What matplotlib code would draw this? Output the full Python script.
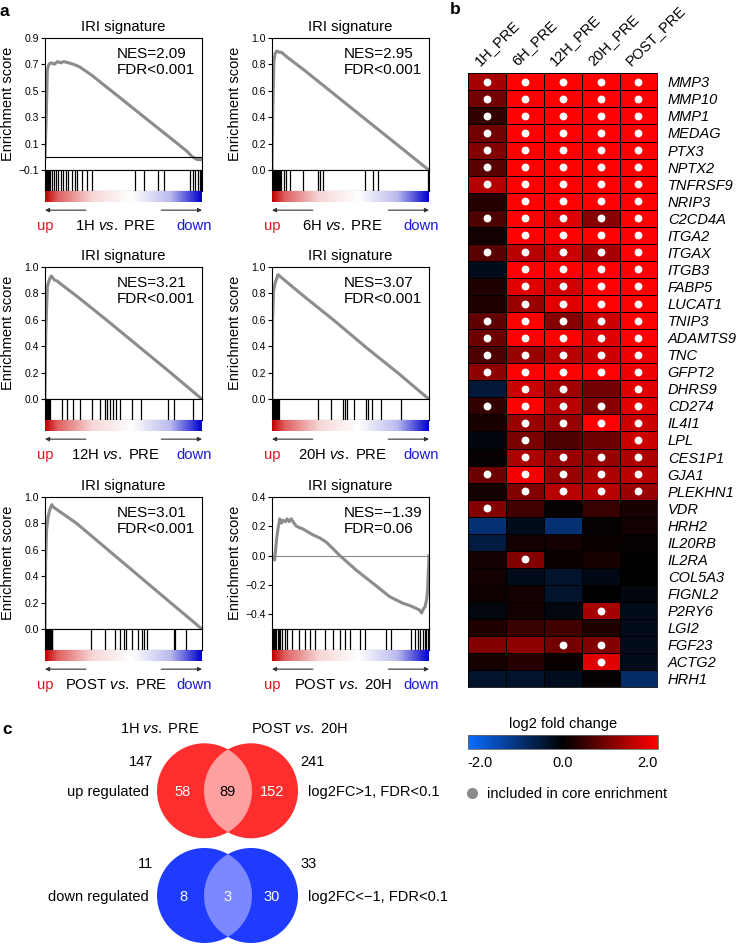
import numpy as np
import matplotlib.pyplot as plt
from matplotlib.colors import LinearSegmentedColormap
from matplotlib.patches import Ellipse
from matplotlib.lines import Line2D

plt.rcParams['font.family'] = 'Liberation Sans'
plt.rcParams['mathtext.fontset'] = 'custom'
plt.rcParams['mathtext.rm'] = 'Liberation Sans'
plt.rcParams['mathtext.it'] = 'Liberation Sans:italic'

# ---------------- data: panel a (GSEA running enrichment scores) ----------------
gsea_titles = ['1H', '6H', '12H', '20H', 'POST', 'POST']
gsea_refs = ['PRE', 'PRE', 'PRE', 'PRE', 'PRE', '20H']
nes = [2.09, 2.95, 3.21, 3.07, 3.01, -1.39]
fdr = ['<0.001', '<0.001', '<0.001', '<0.001', '<0.001', '=0.06']

es_x = [
    [0, 0.008, 0.015, 0.025, 0.04, 0.06, 0.08, 0.1, 0.12, 0.15, 0.18, 0.22, 0.3, 0.4, 0.5, 0.6, 0.7, 0.8, 0.9, 0.94, 0.97, 1.0],
    [0, 0.005, 0.012, 0.02, 0.03, 0.045, 0.06, 0.08, 0.1, 0.2, 0.4, 0.6, 0.8, 0.9, 1.0],
    [0, 0.005, 0.015, 0.03, 0.04, 0.06, 0.08, 0.1, 0.2, 0.4, 0.6, 0.8, 0.9, 1.0],
    [0, 0.004, 0.01, 0.02, 0.03, 0.038, 0.2, 0.4, 0.6, 0.8, 1.0],
    [0, 0.004, 0.01, 0.02, 0.03, 0.043, 0.055, 0.2, 0.4, 0.6, 0.8, 0.926, 1.0],
    [0, 0.006, 0.017, 0.03, 0.038, 0.049, 0.06, 0.07, 0.085, 0.096, 0.11, 0.123, 0.14, 0.155, 0.175,
     0.198, 0.23, 0.262, 0.304, 0.347, 0.39, 0.432, 0.538, 0.645, 0.751, 0.836, 0.88, 0.921, 0.94,
     0.953, 0.965, 0.974, 0.985, 0.991, 1.0],
]
es_y = [
    [0, 0.3, 0.66, 0.70, 0.71, 0.70, 0.72, 0.71, 0.72, 0.71, 0.70, 0.68, 0.615, 0.52, 0.426, 0.331, 0.236, 0.142, 0.047, 0.0, -0.02, -0.02],
    [0, 0.45, 0.82, 0.88, 0.90, 0.89, 0.89, 0.87, 0.85, 0.76, 0.57, 0.38, 0.19, 0.095, 0.0],
    [0, 0.5, 0.85, 0.91, 0.93, 0.90, 0.89, 0.87, 0.78, 0.59, 0.395, 0.2, 0.1, 0.0],
    [0, 0.6, 0.82, 0.88, 0.91, 0.94, 0.78, 0.59, 0.39, 0.2, 0.0],
    [0, 0.5, 0.75, 0.85, 0.9, 0.94, 0.92, 0.80, 0.60, 0.40, 0.20, 0.075, 0.0],
    [0, -0.01, -0.03, 0.12, 0.18, 0.25, 0.22, 0.24, 0.23, 0.25, 0.23, 0.25, 0.22, 0.2, 0.19,
     0.18, 0.16, 0.14, 0.12, 0.09, 0.045, 0.0, -0.1, -0.19, -0.28, -0.325, -0.34, -0.36, -0.37,
     -0.39, -0.36, -0.35, -0.3, -0.23, 0.0],
]
es_ylim = [(-0.1, 0.9), (0, 1.0), (0, 1.0), (0, 1.0), (0, 1.0), (-0.5, 0.4)]
es_ticks = [[-0.1, 0.1, 0.3, 0.5, 0.7, 0.9], [0, 0.2, 0.4, 0.6, 0.8, 1.0], [0, 0.2, 0.4, 0.6, 0.8, 1.0],
            [0, 0.2, 0.4, 0.6, 0.8, 1.0], [0, 0.2, 0.4, 0.6, 0.8, 1.0], [-0.4, -0.2, 0.0, 0.2, 0.4]]

hits = [
    [0.002, 0.006, 0.01, 0.014, 0.018, 0.022, 0.026, 0.03, 0.043, 0.057, 0.07, 0.085, 0.1, 0.117, 0.132,
     0.149, 0.17, 0.19, 0.206, 0.234, 0.27, 0.298, 0.574, 0.628, 0.717, 0.755, 0.926, 0.94, 0.957, 0.972, 0.985, 0.996],
    [0.002, 0.008, 0.014, 0.02, 0.026, 0.032, 0.038, 0.045, 0.052, 0.06, 0.074, 0.091, 0.116, 0.2, 0.296,
     0.307, 0.328, 0.592, 0.645, 0.677, 0.994],
    [0.002, 0.007, 0.012, 0.017, 0.022, 0.027, 0.032, 0.108, 0.14, 0.178, 0.223, 0.3, 0.35, 0.38, 0.395,
     0.414, 0.433, 0.452, 0.478, 0.554, 0.611, 0.783, 0.822, 0.943],
    [0.002, 0.007, 0.012, 0.017, 0.022, 0.027, 0.032, 0.037, 0.042, 0.293, 0.374, 0.452, 0.467, 0.48,
     0.52, 0.6, 0.611, 0.635, 0.697, 0.824],
    [0.002, 0.007, 0.012, 0.017, 0.022, 0.027, 0.032, 0.037, 0.042, 0.047, 0.294, 0.379, 0.449, 0.477,
     0.506, 0.519, 0.555, 0.591, 0.618, 0.633, 0.65, 0.824, 0.83, 0.9],
    [0.005, 0.012, 0.02, 0.028, 0.036, 0.045, 0.053, 0.066, 0.081, 0.096, 0.13, 0.175, 0.21, 0.24, 0.275,
     0.338, 0.391, 0.433, 0.465, 0.497, 0.56, 0.592, 0.729, 0.761, 0.888, 0.909, 0.93, 0.945, 0.962,
     0.973, 0.983, 0.994],
]

# ---------------- data: panel b (heatmap) ----------------
conditions = ['1H_PRE', '6H_PRE', '12H_PRE', '20H_PRE', 'POST_PRE']
genes = ['MMP3', 'MMP10', 'MMP1', 'MEDAG', 'PTX3', 'NPTX2', 'TNFRSF9', 'NRIP3', 'C2CD4A', 'ITGA2',
         'ITGAX', 'ITGB3', 'FABP5', 'LUCAT1', 'TNIP3', 'ADAMTS9', 'TNC', 'GFPT2', 'DHRS9', 'CD274',
         'IL4I1', 'LPL', 'CES1P1', 'GJA1', 'PLEKHN1', 'VDR', 'HRH2', 'IL20RB', 'IL2RA', 'COL5A3',
         'FIGNL2', 'P2RY6', 'LGI2', 'FGF23', 'ACTG2', 'HRH1']
log2fc = [
    [1.3, 2.5, 2.5, 2.5, 2.5],
    [0.9, 2.5, 2.5, 2.5, 2.5],
    [0.4, 2.5, 2.5, 2.5, 2.5],
    [0.9, 2.5, 2.5, 2.5, 2.5],
    [1.0, 2.5, 2.5, 2.5, 2.5],
    [0.7, 2.5, 2.5, 2.5, 2.5],
    [1.4, 2.5, 2.5, 2.5, 2.5],
    [0.3, 2.5, 2.5, 2.5, 2.5],
    [0.6, 2.5, 1.75, 1.05, 2.5],
    [0.15, 2.5, 2.5, 2.5, 2.5],
    [0.7, 1.45, 1.6, 1.3, 2.5],
    [-0.2, 2.5, 2.5, 2.5, 2.5],
    [0.25, 1.75, 1.65, 2.5, 2.5],
    [0.25, 1.2, 1.75, 2.5, 2.5],
    [0.75, 2.5, 1.05, 1.6, 2.5],
    [0.85, 2.5, 2.5, 1.75, 2.5],
    [0.6, 1.2, 1.45, 1.6, 1.85],
    [1.1, 2.5, 2.5, 2.5, 1.85],
    [-0.45, 1.6, 1.25, 0.9, 1.75],
    [0.4, 2.5, 1.45, 1.05, 1.75],
    [0.2, 1.2, 1.2, 2.5, 1.6],
    [-0.1, 0.95, 0.6, 0.85, 1.6],
    [0.05, 1.35, 1.2, 1.2, 1.35],
    [0.85, 1.9, 1.2, 1.35, 1.45],
    [0.15, 1.0, 1.45, 1.45, 1.2],
    [1.0, 0.5, 0.05, 0.45, 0.2],
    [-0.9, -0.2, -0.9, 0.05, 0.15],
    [-0.5, 0.15, 0.15, 0.08, 0.05],
    [0.15, 1.0, 0.08, 0.2, 0.03],
    [0.15, -0.2, -0.35, -0.15, 0.02],
    [0.1, 0.15, -0.35, 0.0, -0.1],
    [-0.12, 0.15, -0.12, 1.3, -0.2],
    [0.25, 0.45, 0.5, 0.25, -0.2],
    [1.0, 1.1, 0.9, 1.0, -0.2],
    [0.2, 0.3, 0.08, 1.75, -0.2],
    [-0.35, -0.35, -0.25, 0.05, -0.8],
]
core = [
    [1, 1, 1, 1, 1], [1, 1, 1, 1, 1], [1, 1, 1, 1, 1], [1, 1, 1, 1, 1], [1, 1, 1, 1, 1],
    [1, 1, 1, 1, 1], [1, 1, 1, 1, 1], [0, 1, 1, 1, 1], [1, 1, 1, 1, 1], [0, 1, 1, 1, 1],
    [1, 1, 1, 1, 1], [0, 1, 1, 1, 1], [0, 1, 1, 1, 1], [0, 1, 1, 1, 1], [1, 1, 1, 1, 1],
    [1, 1, 1, 1, 1], [1, 1, 1, 1, 1], [1, 1, 1, 1, 1], [0, 1, 1, 0, 1], [1, 1, 1, 1, 1],
    [0, 1, 1, 1, 1], [0, 1, 0, 0, 1], [0, 1, 1, 1, 1], [1, 1, 1, 1, 1], [0, 1, 1, 1, 1],
    [1, 0, 0, 0, 0], [0, 0, 0, 0, 0], [0, 0, 0, 0, 0], [0, 1, 0, 0, 0], [0, 0, 0, 0, 0],
    [0, 0, 0, 0, 0], [0, 0, 0, 1, 0], [0, 0, 0, 0, 0], [0, 0, 1, 1, 0], [0, 0, 0, 1, 0],
    [0, 0, 0, 0, 0],
]

# ---------------- data: panel c (Venn counts) ----------------
venn_sets = ['1H', 'POST']
venn_refs = ['PRE', '20H']
up_counts = [58, 89, 152]
down_counts = [8, 3, 30]

W, H = 740, 944


def box(x0, y0, x1, y1):
    return [x0 / W, 1 - y1 / H, (x1 - x0) / W, (y1 - y0) / H]


fig = plt.figure(figsize=(W / 100, H / 100), dpi=100)

rank_cmap = LinearSegmentedColormap.from_list(
    'rank', [(0, '#c00000'), (0.08, '#e06060'), (0.3, '#f6d6d6'), (0.55, '#ffffff'),
             (0.8, '#babaee'), (1.0, '#0000cc')])
gradient = np.linspace(0, 1, 256).reshape(1, -1)

col_left = [45, 272]
row_top = [37.7, 266.7, 496.7]
pw, es_h, hit_h, bar_h = 157, 132.5, 20.7, 11

for i in range(6):
    x0 = col_left[i % 2]
    top = row_top[i // 2]
    ax = fig.add_axes(box(x0, top, x0 + pw, top + es_h))
    ax.plot(es_x[i], es_y[i], color='#8c8c8c', lw=2.2)
    if es_ylim[i][0] < 0:
        ax.axhline(0, color='black' if i == 0 else '#8c8c8c', lw=0.8)
    ax.set_xlim(0, 1)
    ax.set_ylim(*es_ylim[i])
    ax.set_yticks(es_ticks[i])
    ax.set_yticklabels([('%.1f' % t).replace('-', '\u2212') for t in es_ticks[i]])
    ax.set_xticks([])
    ax.tick_params(axis='y', length=3, width=0.8, labelsize=7.5, pad=1.5)
    for s in ax.spines.values():
        s.set_linewidth(0.8)
    ax.set_ylabel('Enrichment score', fontsize=10.5)
    ax.yaxis.set_label_coords(-0.19, 0.5)
    ax.set_title('IRI signature', fontsize=10.7, pad=5)
    ax.text(0.46, 0.93, 'NES=%s\nFDR%s' % (('%.2f' % nes[i]).replace('-', '\u2212'), fdr[i]),
            transform=ax.transAxes, ha='left', va='top', fontsize=11, linespacing=1.15)

    axh = fig.add_axes(box(x0, top + es_h, x0 + pw, top + es_h + hit_h))
    axh.vlines(hits[i], 0, 1, color='black', lw=0.9)
    axh.set_xlim(0, 1)
    axh.set_ylim(0, 1)
    axh.set_xticks([])
    axh.set_yticks([])
    for s in axh.spines.values():
        s.set_linewidth(0.8)

    axb = fig.add_axes(box(x0, top + es_h + hit_h, x0 + pw, top + es_h + hit_h + bar_h))
    axb.imshow(gradient, aspect='auto', cmap=rank_cmap, extent=(0, 1, 0, 1))
    axb.set_axis_off()
    arr = dict(arrowstyle='-|>', color='#333333', lw=0.8, mutation_scale=6, shrinkA=0, shrinkB=0)
    axb.annotate('', xy=(0, -0.75), xytext=(0.26, -0.75), xycoords='axes fraction', arrowprops=arr)
    axb.annotate('', xy=(1, -0.75), xytext=(0.74, -0.75), xycoords='axes fraction', arrowprops=arr)
    axb.text(0, -2.16, 'up', color='#e0161c', ha='center', va='center', fontsize=10.7, transform=axb.transAxes)
    axb.text(0.95, -2.16, 'down', color='#1a1ae0', ha='center', va='center', fontsize=10.7, transform=axb.transAxes)
    axb.text(0.45, -2.16, r'%s $\it{vs.}$ %s' % (gsea_titles[i], gsea_refs[i]), ha='center',
             va='center', fontsize=10.7, transform=axb.transAxes)

# ---------------- panel b ----------------
hm_cmap = LinearSegmentedColormap.from_list('bkr', ['#0a6cff', '#000000', '#ff0000'])
vals = np.array(log2fc)
axm = fig.add_axes(box(468.3, 73.3, 657.3, 687.3))
mesh = axm.pcolormesh(vals, cmap=hm_cmap, vmin=-2, vmax=2, edgecolors='black', linewidth=0.6)
rr, cc = np.nonzero(np.array(core))
axm.scatter(cc + 0.5, rr + 0.5, s=32, color='white', zorder=3, linewidths=0)
axm.set_xlim(0, len(conditions))
axm.set_ylim(len(genes), 0)
axm.set_xticks([])
axm.set_yticks(np.arange(len(genes)) + 0.5)
axm.set_yticklabels(genes, style='italic', fontsize=10.5)
axm.yaxis.tick_right()
axm.tick_params(axis='y', length=0, pad=7.5)
for s in axm.spines.values():
    s.set_linewidth(0.6)
for j, lab in enumerate(conditions):
    axm.text(j + 0.35, -0.3, lab, rotation=45, rotation_mode='anchor', ha='left', va='bottom',
             fontsize=10.5)

cax = fig.add_axes(box(467.7, 735, 657.7, 749.3))
cb = fig.colorbar(mesh, cax=cax, orientation='horizontal', ticks=[-2, 0, 2])
cb.set_ticklabels(['-2.0', '0.0', '2.0'])
cax.tick_params(length=0, pad=5, labelsize=10.5)
tl = cax.get_xticklabels()
tl[0].set_ha('left')
tl[2].set_ha('right')
cb.outline.set_linewidth(0.6)
cb.outline.set_edgecolor('#666666')
cax.set_title('log2 fold change', fontsize=10.5, pad=5)

fig.legend(handles=[Line2D([0], [0], marker='o', ls='', color='#8c8c8c', markersize=7)],
           labels=['included in core enrichment'], frameon=False, loc='center left',
           bbox_to_anchor=(466.5 / W, 1 - 794 / H), borderpad=0, borderaxespad=0,
           handlelength=0.8, handletextpad=0.6, fontsize=10.5)

# ---------------- panel c ----------------
axv = fig.add_axes(box(0, 700, 440, 944))
axv.set_xlim(0, 440)
axv.set_ylim(944, 700)
axv.set_axis_off()

venn_rows = [
    (790.8, up_counts, '#ff2e2e', '#ffa0a0', 'up regulated', 'log2FC>1, FDR<0.1', -29),
    (895.5, down_counts, '#1f3bff', '#7b88ff', 'down regulated', 'log2FC<\u22121, FDR<0.1', -31),
]
cx = [204.5, 251]
for cy, counts, col, mix, lab, crit, dy in venn_rows:
    e1 = Ellipse((cx[0], cy), 95, 95, color=col, lw=0)
    e2 = Ellipse((cx[1], cy), 94, 95, color=col, lw=0)
    axv.add_patch(e1)
    axv.add_patch(e2)
    e3 = Ellipse((cx[1], cy), 94, 95, color=mix, lw=0)
    axv.add_patch(e3)
    e3.set_clip_path(e1)
    axv.text(183, cy + 1.5, str(counts[0]), color='white', ha='center', va='center', fontsize=10.5)
    axv.text(227.3, cy + 1.5, str(counts[1]), color='white' if counts is down_counts else 'black',
             ha='center', va='center', fontsize=10.5)
    axv.text(272, cy + 1.5, str(counts[2]), color='white', ha='center', va='center', fontsize=10.5)
    axv.text(149, cy + 1.5, lab, ha='right', va='center', fontsize=10.5)
    axv.text(308, cy + 1.5, crit, ha='left', va='center', fontsize=10.5)
    axv.text(153, cy + dy, str(counts[0] + counts[1]), ha='right', va='center', fontsize=10.5)
    axv.text(300, cy + dy, str(counts[1] + counts[2]), ha='left', va='center', fontsize=10.5)

axv.text(160, 729.3, r'%s $\it{vs.}$ %s' % (venn_sets[0], venn_refs[0]), ha='center', va='center', fontsize=10.5)
axv.text(299, 729.3, r'%s $\it{vs.}$ %s' % (venn_sets[1], venn_refs[1]), ha='center', va='center', fontsize=10.5)

fig.text(4 / W, 1 - 11 / H, 'a', weight='bold', fontsize=12.5, ha='center', va='center')
fig.text(455 / W, 1 - 10 / H, 'b', weight='bold', fontsize=12.5, ha='center', va='center')
fig.text(7 / W, 1 - 729 / H, 'c', weight='bold', fontsize=12.5, ha='center', va='center')

fig.savefig('out.png', dpi=100)
